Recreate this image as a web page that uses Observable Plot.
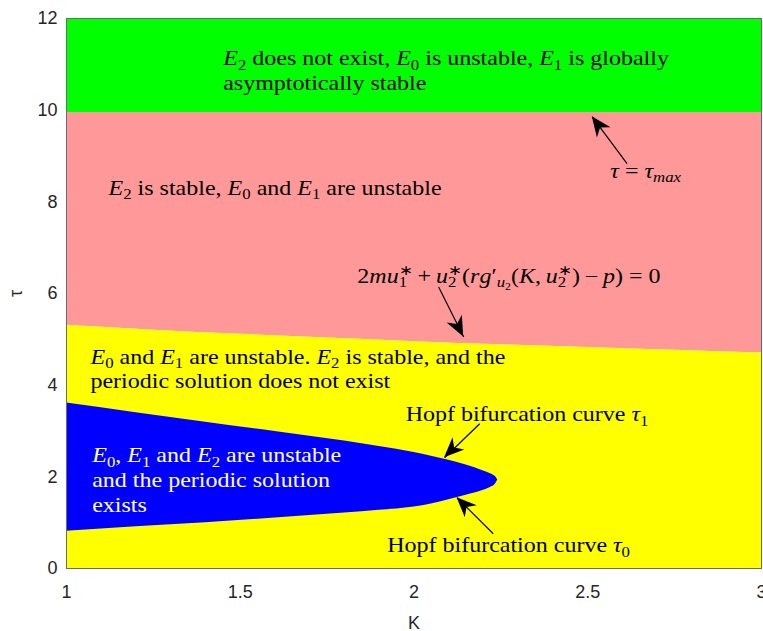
<!DOCTYPE html>
<html>
<head>
<meta charset="utf-8">
<script src="https://cdn.jsdelivr.net/npm/d3@7"></script>
<script src="https://cdn.jsdelivr.net/npm/@observablehq/plot@0.6"></script>
<style>
  body { margin: 0; background: #fff; }
  svg { display: block; }
</style>
</head>
<body>
<script>
// Stability regions in the (K, τ) plane.

// Upper limit of the plotted delay range and the critical delay τ_max.
const tauTop = 12;
const tauMax = 9.95;

// Curve 2m·u1* + u2*(r·g'(K, u2*) − p) = 0 separating the pink and yellow regions.
const boundaryK   = [1, 1.25, 1.5, 1.75, 2, 2.25, 2.5, 2.75, 3];
const boundaryTau = [5.31, 5.20, 5.11, 5.03, 4.95, 4.88, 4.82, 4.76, 4.70];

// Hopf bifurcation curves τ0 (lower) and τ1 (upper); they meet at the tip.
const hopfK    = [1, 1.2, 1.4, 1.6, 1.8, 1.9, 2.0, 2.05, 2.1, 2.15, 2.2, 2.22, 2.235, 2.241];
const hopfTau1 = [3.61, 3.40, 3.19, 2.99, 2.78, 2.66, 2.53, 2.45, 2.36, 2.26, 2.13, 2.07, 2.00, 1.93];
const hopfTau0 = [0.815, 0.91, 1.00, 1.10, 1.21, 1.27, 1.34, 1.41, 1.50, 1.60, 1.71, 1.77, 1.85, 1.93];

// Axis ticks.
const xTicks = [1, 1.5, 2, 2.5, 3];
const xTickLabels = ["1", "1.5", "2", "2.5", "3"];
const yTicks = [0, 2, 4, 6, 8, 10, 12];

// Region descriptions (TeX-like markup: $…$ is math, _ subscript, ^ superscript).
const darkLabels = [
  {K: 1.451, tau: 10.975, text: "$E_2$ does not exist, $E_0$ is unstable, $E_1$ is globally"},
  {K: 1.451, tau: 10.43,  text: "asymptotically stable"},
  {K: 1.121, tau: 8.16,   text: "$E_2$ is stable, $E_0$ and $E_1$ are unstable"},
  {K: 2.565, tau: 8.53,   text: "$\\tau = \\tau_{max}$"},
  {K: 1.837, tau: 6.24,   text: "$2mu_1^* + u_2^*(rg'_{u_2}(K, u_2^*) - p) = 0$"},
  {K: 1.069, tau: 4.47,   text: "$E_0$ and $E_1$ are unstable. $E_2$ is stable, and the"},
  {K: 1.069, tau: 3.93,   text: "periodic solution does not exist"},
  {K: 1.976, tau: 3.21,   text: "Hopf bifurcation curve $\\tau_1$"},
  {K: 1.923, tau: 0.356,  text: "Hopf bifurcation curve $\\tau_0$"}
];
const lightLabels = [
  {K: 1.074, tau: 2.32,  text: "$E_0$, $E_1$ and $E_2$ are unstable"},
  {K: 1.074, tau: 1.774, text: "and the periodic solution"},
  {K: 1.074, tau: 1.228, text: "exists"}
];

// Pointer arrows: from the label (K1, tau1) to the curve (K2, tau2).
const arrows = [
  {K1: 2.613, tau1: 8.836, K2: 2.513, tau2: 9.854},
  {K1: 2.071, tau1: 6.142, K2: 2.143, tau2: 5.050},
  {K1: 2.189, tau1: 3.159, K2: 2.088, tau2: 2.417},
  {K1: 2.228, tau1: 0.758, K2: 2.124, tau2: 1.544}
];

const boundary = boundaryK.map((K, i) => ({K, tau: boundaryTau[i]}));
const hopf = hopfK.map((K, i) => ({K, tau0: hopfTau0[i], tau1: hopfTau1[i]}));

const SERIF = "'Liberation Serif', 'Times New Roman', serif";
const SANS = "'Liberation Sans', Arial, Helvetica, sans-serif";
const LABEL_SIZE = 20;
const LABEL_STRETCH = 1.2; // widen the serif face toward Computer Modern proportions

// Filled, notched arrowheads placed at the pointer tips.
function arrowHeads(index, scales) {
  const {x, y} = scales;
  const g = d3.create("svg:g").attr("aria-label", "arrowheads").attr("fill", "black");
  for (const a of arrows) {
    const x1 = x(a.K1), y1 = y(a.tau1), x2 = x(a.K2), y2 = y(a.tau2);
    const angle = Math.atan2(y2 - y1, x2 - x1) * 180 / Math.PI;
    g.append("path")
      .attr("d", "M0,0L-20,-8.5L-14,0L-20,8.5Z")
      .attr("transform", `translate(${x2},${y2}) rotate(${angle})`);
  }
  return g.node();
}

const chart = Plot.plot({
  width: 763,
  height: 631,
  marginTop: 18,
  marginRight: 2,
  marginBottom: 63,
  marginLeft: 66,
  style: {fontFamily: SANS, fontSize: "18px", color: "#262626", background: "#fff"},
  x: {
    domain: [1, 3],
    ticks: xTicks,
    tickFormat: d => xTickLabels[xTicks.indexOf(d)],
    tickSize: 0,
    tickPadding: 17,
    label: "K",
    labelAnchor: "center",
    labelOffset: 60,
    labelArrow: "none"
  },
  y: {
    domain: [0, tauTop],
    ticks: yTicks,
    tickSize: 0,
    tickPadding: 9,
    label: "τ",
    labelAnchor: "center",
    labelOffset: 57,
    labelArrow: "none"
  },
  marks: [
    Plot.areaY(boundary, {x: "K", y1: () => tauMax, y2: () => tauTop, fill: "#00ff00"}),
    Plot.areaY(boundary, {x: "K", y1: "tau", y2: () => tauMax, fill: "#ff9999", curve: "monotone-x"}),
    Plot.areaY(boundary, {x: "K", y1: () => 0, y2: "tau", fill: "#ffff00", curve: "monotone-x"}),
    Plot.areaY(hopf, {x: "K", y1: "tau0", y2: "tau1", fill: "#0000ff", curve: "monotone-x"}),
    Plot.frame({stroke: "#6b6b6b", strokeWidth: 1}),
    Plot.link(arrows, {x1: "K1", y1: "tau1", x2: "K2", y2: "tau2", stroke: "black", strokeWidth: 1.2}),
    arrowHeads,
    Plot.text(darkLabels, {x: "K", y: "tau", text: "text", textAnchor: "start", lineAnchor: "bottom",
      fill: "black", fontSize: LABEL_SIZE}),
    Plot.text(lightLabels, {x: "K", y: "tau", text: "text", textAnchor: "start", lineAnchor: "bottom",
      fill: "white", fontSize: LABEL_SIZE})
  ]
});

document.body.append(chart);

// Turn the TeX-like markup into italic math letters, sub- and superscripts.
function typeset(node, source, size) {
  const text = d3.select(node).text(null)
    .attr("font-family", SERIF)
    .style("white-space", "pre");
  let shift = 0, pendingDx = 0;
  const put = (str, scale, offset, italic) => {
    const t = text.append("tspan").text(str).attr("font-size", +(size * scale).toFixed(2));
    if (italic) t.attr("font-style", "italic");
    if (offset !== shift) { t.attr("dy", +(offset - shift).toFixed(2)); shift = offset; }
    if (pendingDx) { t.attr("dx", +pendingDx.toFixed(2)); pendingDx = 0; }
    return t.node();
  };
  const symbols = {"\\tau": "τ"};
  const THIN = "\u2009";
  const math = (src, scale, offset) => {
    let i = 0, firstScript = null;
    const group = () => {
      if (src[i] === "{") {
        let depth = 1, j = i + 1;
        while (depth) { if (src[j] === "{") depth++; else if (src[j] === "}") depth--; j++; }
        const g = src.slice(i + 1, j - 1); i = j; return g;
      }
      if (src[i] === "\\") { const m = /^\\[a-zA-Z]+/.exec(src.slice(i))[0]; i += m.length; return m; }
      return src[i++];
    };
    while (i < src.length) {
      const c = src[i];
      if (c === "_" || c === "^") {
        i++;
        const g = group();
        const off = offset + (c === "_" ? 0.22 : -0.4) * size * scale;
        if (firstScript !== null) pendingDx = -firstScript;
        const before = text.selectAll("tspan").size();
        math(g, scale * 0.7, off);
        const w = d3.sum(text.selectAll("tspan").nodes().slice(before), n => n.getComputedTextLength());
        if (firstScript === null) firstScript = w;
        else { if (w < firstScript) pendingDx = firstScript - w; firstScript = null; }
        continue;
      }
      firstScript = null;
      if (c === "\\") { const m = /^\\[a-zA-Z]+/.exec(src.slice(i))[0]; i += m.length; put(symbols[m], scale, offset, true); continue; }
      if (c === " ") { i++; continue; }
      if (/[a-zA-Z]/.test(c)) { put(c, scale, offset, true); i++; continue; }
      if (c === "+") { put(`${THIN}+${THIN}`, scale, offset, false); i++; continue; }
      if (c === "=") { put(" = ", scale, offset, false); i++; continue; }
      if (c === "-") { put(`${THIN}−${THIN}`, scale, offset, false); i++; continue; }
      if (c === "'") { put("′", scale, offset, false); i++; continue; }
      if (c === "*") { put("∗", scale, offset, false); i++; continue; }
      if (c === ",") { put(`,${THIN}`, scale, offset, false); i++; continue; }
      put(c, scale, offset, false); i++;
    }
  };
  source.split("$").forEach((part, k) => {
    if (!part) return;
    if (k % 2) math(part, 1, 0);
    else put(part, 1, 0, false);
  });
  // Widen horizontally about the anchor point.
  const tx = node.getAttribute("x"), ty = node.getAttribute("y");
  if (tx !== null && ty !== null && !isNaN(+tx) && !isNaN(+ty)) {
    node.removeAttribute("x");
    node.removeAttribute("y");
    node.setAttribute("transform", `translate(${tx},${ty}) scale(${LABEL_STRETCH},1)`);
  } else {
    node.setAttribute("transform", `${node.getAttribute("transform") || ""} scale(${LABEL_STRETCH},1)`);
  }
}

d3.select(chart).selectAll('g[aria-label="text"] text').each(function() {
  typeset(this, this.textContent, LABEL_SIZE);
});
</script>
</body>
</html>
